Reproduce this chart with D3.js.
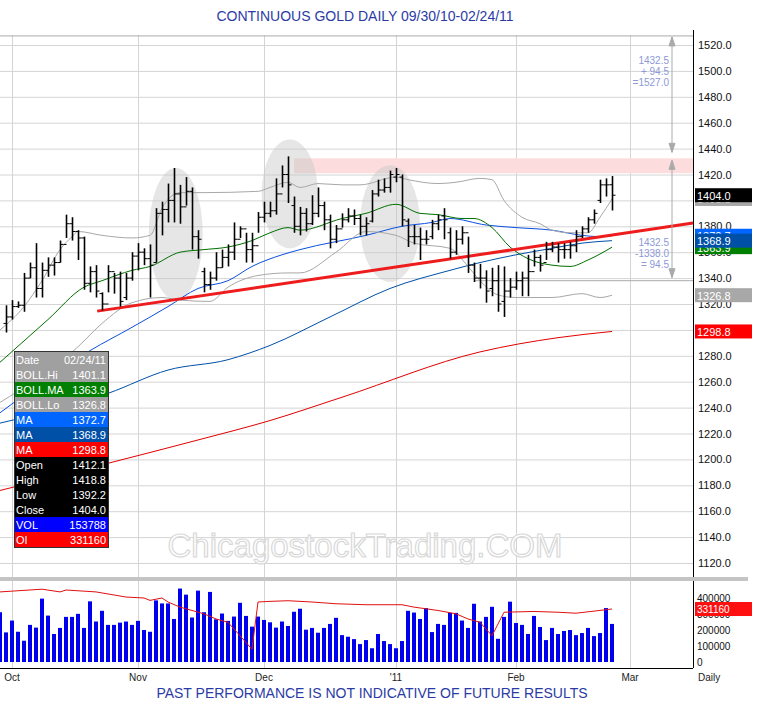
<!DOCTYPE html>
<html>
<head>
<meta charset="utf-8">
<script src="https://cdn.jsdelivr.net/npm/d3@7"></script>
<style>
  body { margin: 0; background: #fff; }
  text { font-family: Arial, "Liberation Sans", sans-serif; }
</style>
</head>
<body>
<svg id="chart" width="759" height="720"></svg>
<script>
// bar index 0 = 09/30/10 ... 101 = 02/24/11
const opens = [1305,1310,1318,1319,1340,1348,1332,1346,1350,1352,1366,1382,1376,1371,1336,1345,1328,1320,1345,1340,1325,1340,
  1357,1360,1355,1352,1390,1393,1400,1405,1395,1407,1372,1345,1335,1340,1348,1356,1360,1370,1378,1362,1365,
  1387,1390,1392,1405,1420,1396,1380,1390,1382,1390,1396,1385,1370,1378,1385,1388,1386,1380,1384,1405,1408,1410,
  1418,1418,1384,1372,1372,1370,1372,1382,1388,1375,1360,1370,1375,1350,1340,1340,1332,1338,1322,1330,
  1333,1338,1340,1345,1356,1352,1362,1364,1362,1362,1365,1372,1378,1385,1400,1412,1412.1];
const highs = [1319,1323,1322,1344,1352,1367,1352,1356,1356,1369,1389,1387,1377,1372,1349,1350,1329,1350,1344,1345,1344,1360,
  1367,1363,1366,1394,1399,1413,1425,1412,1418,1410,1377,1348,1345,1360,1362,1366,1383,1380,1375,1375,1391,
  1399,1399,1417,1427,1434,1403,1395,1394,1404,1410,1399,1389,1381,1390,1394,1393,1389,1387,1408,1416,1417,1423,
  1425,1420,1386,1381,1379,1377,1385,1389,1394,1379,1377,1380,1372,1352,1351,1346,1348,1350,1349,1340,
  1345,1345,1358,1362,1358,1368,1368,1367,1367,1368,1377,1380,1387,1393,1416,1417,1418.8];
const lows = [1298,1308,1317,1314,1340,1325,1325,1341,1342,1352,1371,1369,1354,1331,1329,1325,1315,1329,1328,1318,1323,1338,
  1346,1350,1325,1352,1373,1383,1383,1382,1396,1362,1355,1329,1331,1338,1348,1349,1354,1371,1352,1352,1375,
  1383,1387,1389,1410,1398,1375,1373,1376,1381,1387,1377,1363,1367,1379,1383,1381,1373,1373,1383,1403,1406,1406,
  1414,1380,1364,1366,1354,1366,1370,1377,1370,1355,1358,1366,1344,1337,1332,1321,1326,1314,1310,1325,
  1331,1326,1326,1349,1345,1354,1360,1352,1355,1355,1360,1371,1375,1382,1398,1403,1392.2];
const closes = [1310,1318,1319,1340,1348,1332,1346,1350,1352,1366,1382,1376,1371,1336,1345,1330,1320,1345,1340,1322,1340,1357,
  1360,1355,1350,1390,1393,1400,1405,1395,1407,1372,1370,1335,1340,1348,1356,1360,1370,1378,1362,1365,1387,
  1390,1392,1405,1420,1412,1380,1390,1382,1390,1396,1385,1370,1378,1385,1388,1386,1380,1382,1405,1408,1410,1420,
  1420,1385,1372,1372,1370,1370,1382,1385,1385,1360,1370,1375,1350,1340,1340,1330,1338,1320,1330,1333,
  1338,1340,1345,1356,1350,1362,1364,1362,1362,1365,1372,1378,1385,1390,1412,1412,1404.0];

// indicator lines as [bar index, value]
const bollHi = [[-1,1300],[3,1318],[6,1338],[9,1362],[11,1372],[12,1376],[16,1373],[21,1371],[24,1373],[26,1394],[29,1406],
  [33,1406],[42,1407],[44,1410],[47,1414],[49,1410],[52,1413],[56,1412],[59,1412],[65,1418],[67,1416],[72,1413],[75,1414],
  [79,1417],[81,1416],[83,1400],[86,1387],[89,1382],[91,1377],[94,1375],[97,1375],[99,1387],[101,1401.1]];
const bollMa = [[-1,1275],[7,1308],[13,1333],[16,1338],[21,1346],[24,1349],[29,1360],[33,1362],[37,1364],[41,1369],[44,1375],
  [47,1379],[49,1377],[56,1386],[60,1390],[65,1397],[69,1390],[72,1389],[76,1386],[78,1386],[81,1379],[84,1364],[87,1355],
  [91,1350],[94,1349],[97,1354],[101,1363.9]];
const bollLo = [[-1,1244],[12,1287],[16,1305],[21,1321],[26,1325],[29,1323],[34,1322],[37,1333],[42,1342],[47,1344],[49,1344],
  [55,1360],[60,1376],[65,1373],[68,1367],[74,1363],[77,1349],[79,1338],[82,1327],[85,1325],[91,1325],[96,1328],[99,1325],[101,1326.8]];
const maFast = [[-1,1236],[14,1284],[21,1302],[27,1318],[32,1332],[37,1338],[41,1349],[46,1358],[49,1362],[60,1373],[66,1380],
  [71,1383],[74,1386],[80,1381],[85,1379],[91,1377],[96,1373],[99,1372],[101,1372.7]];
const maMid = [[-1,1228],[17,1251],[27,1269],[37,1277],[44,1288],[54,1310],[64,1332],[74,1346],[79,1352],[85,1358],[91,1363],[96,1367],[101,1368.9]];
const maSlow = [[-1,1176],[17,1197],[32,1215],[44,1230],[56,1248],[79,1283],[92,1294],[101,1298.8]];

// volume from bar index -1
const volumes = [311,185,259,189,133,232,215,396,290,175,213,282,282,301,213,379,253,320,232,232,246,253,232,257,200,189,
  385,366,366,269,459,421,278,446,311,438,267,303,257,284,370,288,221,284,263,248,215,253,225,314,333,202,213,183,213,238,276,
  168,158,143,112,137,86,175,131,112,86,131,320,309,269,337,187,238,232,307,307,259,213,364,253,282,345,145,282,377,244,232,
  175,288,219,137,213,175,194,200,168,181,213,162,181,337,238].map(v => v * 1000);
const openInt = [[-1,438000],[6,455000],[9,438000],[10,450000],[15,438000],[20,406000],[23,400000],[24,385000],[26,400000],
  [27,375000],[29,343000],[31,322000],[33,301000],[35,269000],[37,248000],[38,206000],[41,80000],[42,375000],[44,379000],
  [47,383000],[51,375000],[55,364000],[60,358000],[66,358000],[68,343000],[72,322000],[75,301000],[77,269000],[79,248000],
  [81,164000],[83,311000],[88,316000],[92,311000],[95,305000],[98,318000],[101,331160]];

const monthLabels = ["Oct", "Nov", "Dec", "'11", "Feb", "Mar"];
const monthIdx = [1, 22, 43, 65, 85, 104];
const priceTicks = d3.range(1120, 1521, 20);
const volTicks = [0, 100000, 200000, 300000, 400000];
const legendRows = [["Date","02/24/11","#a0a0a0"],["BOLL.Hi","1401.1","#a0a0a0"],["BOLL.MA","1363.9","#008000"],
  ["BOLL.Lo","1326.8","#a0a0a0"],["MA","1372.7","#0066ff"],["MA","1368.9","#0050a8"],["MA","1298.8","#ff0000"],
  ["Open","1412.1","#000"],["High","1418.8","#000"],["Low","1392.2","#000"],["Close","1404.0","#000"],
  ["VOL","153788","#0000ff"],["OI","331160","#ff0000"]];
const trend = [[15.2,1314.5],[114.5,1382.5]];
const ellipses = [[28.3,1374,4.5,51],[47.3,1405,4.7,42],[64,1382,5,45]];
const target = [1432.5, 1527.0, 1338.0];

const svg = d3.select("#chart");
const axisX = 693;
const x = d3.scaleLinear().domain([0, 101]).range([6, 612]);
const y = d3.scaleLinear().domain([1120, 1520]).range([563, 45]);
const yv = d3.scaleLinear().domain([0, 400000]).range([662, 598]);
const blueText = "#2b3ba6";

svg.append("text").attr("x", 365).attr("y", 21).attr("text-anchor", "middle")
  .attr("font-size", 14).attr("fill", blueText).text("CONTINUOUS GOLD DAILY 09/30/10-02/24/11");

// grid
const grid = svg.append("g").attr("stroke", "#d4d4d4").attr("stroke-width", 1);
grid.selectAll("line.h").data(priceTicks).join("line")
  .attr("x1", 0).attr("x2", axisX).attr("y1", d => y(d) + 0.5).attr("y2", d => y(d) + 0.5);
grid.selectAll("line.v").data(monthIdx).join("line")
  .attr("x1", d => x(d) + 0.5).attr("x2", d => x(d) + 0.5).attr("y1", 35).attr("y2", 668);
svg.append("line").attr("x1", 0).attr("x2", axisX).attr("y1", y(target[1])).attr("y2", y(target[1]))
  .attr("stroke", "#aaa");
svg.append("line").attr("x1", x(78)).attr("x2", axisX).attr("y1", y(target[2])).attr("y2", y(target[2]))
  .attr("stroke", "#aaa");

// pink resistance zone
svg.append("rect").attr("x", x(48)).attr("width", axisX - x(48))
  .attr("y", y(target[0])).attr("height", y(1421) - y(target[0])).attr("fill", "#fcdcdc");

// ellipses
svg.append("g").selectAll("ellipse").data(ellipses).join("ellipse")
  .attr("cx", d => x(d[0])).attr("cy", d => y(d[1]))
  .attr("rx", d => x(d[2]) - x(0)).attr("ry", d => y(1120) - y(1120 + d[3]))
  .attr("fill", "#c8c8c8").attr("opacity", 0.45);

// watermark
svg.append("text").attr("x", 365).attr("y", 557).attr("text-anchor", "middle")
  .attr("font-size", 33).attr("fill", "#fff").attr("stroke", "#d8d8d8").attr("stroke-width", 1.2)
  .text("ChicagostockTrading.COM");

// indicator lines
const line = d3.line().x(d => x(d[0])).y(d => y(d[1])).curve(d3.curveMonotoneX);
[[maSlow,"#e00000"],[maMid,"#0050a8"],[maFast,"#0a50e0"],[bollLo,"#a8a8a8"],[bollHi,"#a8a8a8"],[bollMa,"#007000"]]
  .forEach(([data, c]) => svg.append("path").attr("d", line(data)).attr("fill", "none").attr("stroke", c).attr("stroke-width", 1));

// trend line
svg.append("line").attr("x1", x(trend[0][0])).attr("y1", y(trend[0][1]))
  .attr("x2", x(trend[1][0])).attr("y2", y(trend[1][1])).attr("stroke", "#ee1c1c").attr("stroke-width", 3);

// OHLC bars
const bars = svg.append("g").attr("stroke", "#000").attr("stroke-width", 1.6);
closes.forEach((c, i) => {
  const cx = Math.round(x(i)) + 0.5;
  bars.append("line").attr("x1", cx).attr("x2", cx).attr("y1", y(highs[i])).attr("y2", y(lows[i]));
  bars.append("line").attr("x1", cx - 3).attr("x2", cx).attr("y1", y(opens[i])).attr("y2", y(opens[i])).attr("stroke-width", 1);
  bars.append("line").attr("x1", cx).attr("x2", cx + 3).attr("y1", y(c)).attr("y2", y(c)).attr("stroke-width", 1);
});

// measurement arrows
const ax = 672;
const arrows = svg.append("g").attr("stroke", "#aaa").attr("fill", "#aaa");
function arrow(y1, y2) {
  arrows.append("line").attr("x1", ax).attr("x2", ax).attr("y1", y1).attr("y2", y2);
  arrows.append("path").attr("d", `M${ax - 3},${y1 + 9}L${ax},${y1}L${ax + 3},${y1 + 9}Z`);
  arrows.append("path").attr("d", `M${ax - 3},${y2 - 9}L${ax},${y2}L${ax + 3},${y2 - 9}Z`);
}
arrow(y(target[1]) + 1, y(target[0]) - 6);
arrow(y(target[0]) + 2, y(target[2]) - 3);
const noteC = "#8c98d8";
[["1432.5", 64], ["+ 94.5", 75], ["=1527.0", 86]].forEach(([t, yy]) =>
  svg.append("text").attr("x", 669).attr("y", yy).attr("text-anchor", "end").attr("font-size", 10).attr("fill", noteC).text(t));
[["1432.5", 246], ["-1338.0", 257], ["= 94.5", 268]].forEach(([t, yy]) =>
  svg.append("text").attr("x", 669).attr("y", yy).attr("text-anchor", "end").attr("font-size", 10).attr("fill", noteC).text(t));

// separator & axes
svg.append("rect").attr("x", 0).attr("y", 577).attr("width", 748).attr("height", 4).attr("fill", "#c4c4c4");
svg.append("line").attr("x1", axisX + 0.5).attr("x2", axisX + 0.5).attr("y1", 30).attr("y2", 577).attr("stroke", "#000");
svg.append("line").attr("x1", axisX + 0.5).attr("x2", axisX + 0.5).attr("y1", 581).attr("y2", 668).attr("stroke", "#000");
svg.append("line").attr("x1", 0).attr("x2", axisX).attr("y1", 668.5).attr("y2", 668.5).attr("stroke", "#000");

svg.append("g").selectAll("text").data(priceTicks).join("text")
  .attr("x", 698).attr("y", d => y(d) + 4).attr("font-size", 11).attr("fill", "#111").text(d => d.toFixed(1));
svg.append("g").selectAll("text").data(volTicks).join("text")
  .attr("x", 697).attr("y", d => yv(d) + 4).attr("font-size", 10).attr("fill", "#111").text(d => d);

// value tags on the right axis
const tags = [[1401.1,"#a8a8a8"],[1404.0,"#000"],[1372.7,"#0066ff"],[1363.9,"#008000"],[1368.9,"#0050a8"],[1326.8,"#a8a8a8"],[1298.8,"#ff0000"]];
tags.forEach(([v, c]) => {
  svg.append("rect").attr("x", 695).attr("y", y(v) - 7).attr("width", 57).attr("height", 14).attr("fill", c);
  svg.append("text").attr("x", 697).attr("y", y(v) + 4.5).attr("font-size", 11).attr("fill", "#fff").text(v.toFixed(1));
});
svg.append("rect").attr("x", 695).attr("y", yv(331160) - 7).attr("width", 57).attr("height", 14).attr("fill", "#ff1010");
svg.append("text").attr("x", 697).attr("y", yv(331160) + 4).attr("font-size", 10).attr("fill", "#fff").text("331160");

// volume
svg.append("g").selectAll("rect").data(volumes).join("rect")
  .attr("x", (d, i) => Math.round(x(i - 1)) - 2).attr("width", 4)
  .attr("y", d => yv(d)).attr("height", d => yv(0) - yv(d)).attr("fill", "#0000ee");
svg.append("path").attr("d", d3.line().x(d => x(d[0])).y(d => yv(d[1]))(openInt))
  .attr("fill", "none").attr("stroke", "#e01010").attr("stroke-width", 1);

// month labels
svg.append("g").selectAll("text").data(monthLabels).join("text")
  .attr("x", (d, i) => x(monthIdx[i])).attr("y", 681).attr("text-anchor", "middle")
  .attr("font-size", 10).attr("fill", "#222").text(d => d);
svg.append("text").attr("x", 698).attr("y", 681).attr("font-size", 10).attr("fill", "#222").text("Daily");

svg.append("text").attr("x", 372).attr("y", 698).attr("text-anchor", "middle")
  .attr("font-size", 14).attr("fill", blueText).text("PAST PERFORMANCE IS NOT INDICATIVE OF FUTURE RESULTS");

// legend box
const lg = svg.append("g").attr("transform", "translate(15,352)");
lg.selectAll("rect").data(legendRows).join("rect")
  .attr("x", 0).attr("y", (d, i) => i * 15).attr("width", 93).attr("height", 15).attr("fill", d => d[2]);
lg.selectAll("text.k").data(legendRows).join("text")
  .attr("x", 1).attr("y", (d, i) => i * 15 + 11.5).attr("font-size", 11).attr("fill", "#fff").text(d => d[0]);
lg.selectAll("text.v").data(legendRows).join("text")
  .attr("x", 91).attr("y", (d, i) => i * 15 + 11.5).attr("text-anchor", "end").attr("font-size", 11).attr("fill", "#fff").text(d => d[1]);
lg.append("rect").attr("x", -0.5).attr("y", -0.5).attr("width", 94).attr("height", 196)
  .attr("fill", "none").attr("stroke", "#333");
</script>
</body>
</html>
